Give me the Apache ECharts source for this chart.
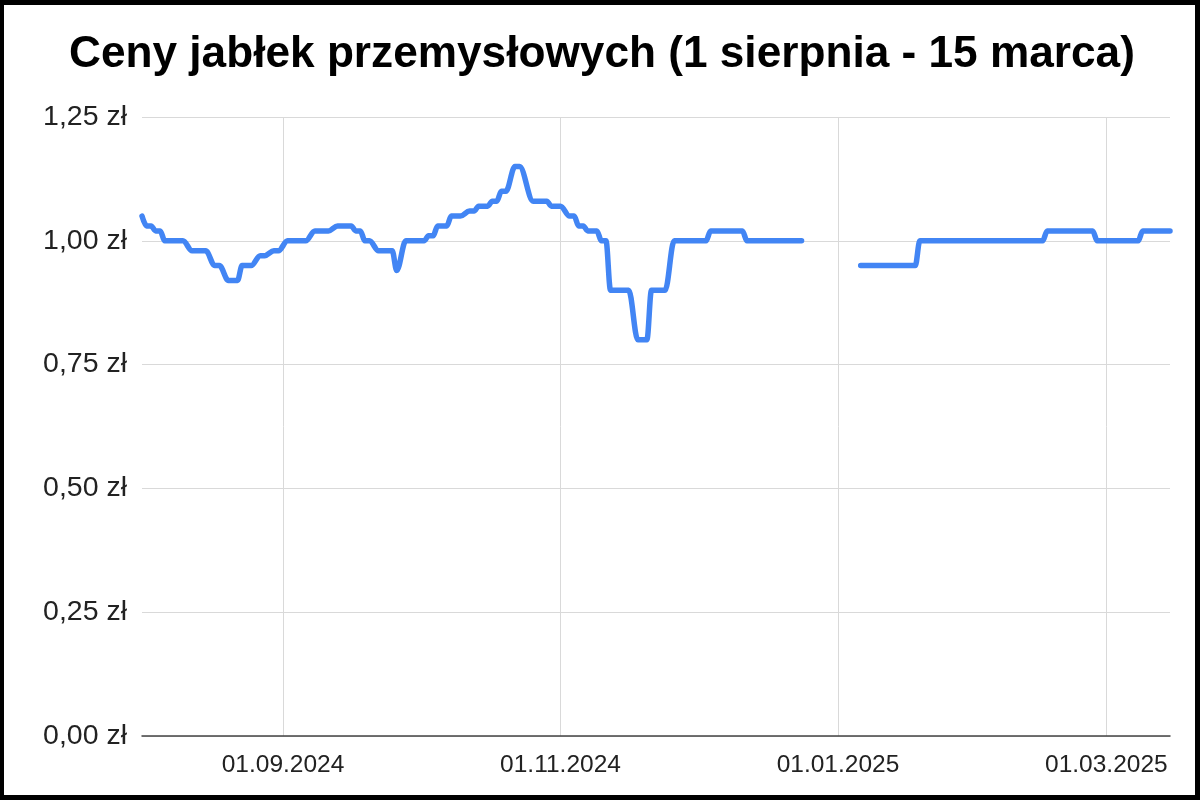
<!DOCTYPE html>
<html>
<head>
<meta charset="utf-8">
<script src="https://cdn.jsdelivr.net/npm/echarts@6/dist/echarts.min.js"></script>
<style>
  html, body { margin: 0; padding: 0; background: #000; width: 1200px; height: 800px; overflow: hidden; }
  #chart { position: absolute; left: 4px; top: 5px; width: 1191px; height: 790px; background: #fff; }
</style>
</head>
<body>
<div id="chart"></div>
<script>
const chartTitle = 'Ceny jabłek przemysłowych (1 sierpnia - 15 marca)';

const dates = [
  '2024-08-01','2024-08-02','2024-08-03','2024-08-04','2024-08-05','2024-08-06','2024-08-10',
  '2024-08-12','2024-08-15','2024-08-17','2024-08-18','2024-08-20','2024-08-22',
  '2024-08-23','2024-08-25','2024-08-27','2024-08-28','2024-08-30','2024-08-31',
  '2024-09-02','2024-09-06','2024-09-08','2024-09-11','2024-09-13','2024-09-16',
  '2024-09-17','2024-09-18','2024-09-19','2024-09-20','2024-09-22','2024-09-25',
  '2024-09-26','2024-09-28','2024-10-02','2024-10-03','2024-10-04','2024-10-05','2024-10-07',
  '2024-10-08','2024-10-10','2024-10-12','2024-10-13','2024-10-14','2024-10-16',
  '2024-10-17','2024-10-18','2024-10-19','2024-10-20','2024-10-22','2024-10-23',
  '2024-10-26','2024-10-29','2024-10-30','2024-11-01','2024-11-03','2024-11-04',
  '2024-11-05','2024-11-06','2024-11-07','2024-11-09','2024-11-10','2024-11-11',
  '2024-11-12','2024-11-16','2024-11-18','2024-11-20','2024-11-21','2024-11-24',
  '2024-11-26','2024-12-03','2024-12-04','2024-12-11','2024-12-12','2024-12-24',
  '2024-12-31',
  '2025-01-06','2025-01-18','2025-01-19','2025-02-15','2025-02-16','2025-02-26',
  '2025-02-27','2025-03-08','2025-03-09','2025-03-15'
];
const prices = [
  1.05,1.03,1.03,1.02,1.02,1.00,1.00,
  0.98,0.98,0.95,0.95,0.92,0.92,
  0.95,0.95,0.97,0.97,0.98,0.98,
  1.00,1.00,1.02,1.02,1.03,1.03,
  1.02,1.02,1.00,1.00,0.98,0.98,
  0.94,1.00,1.00,1.01,1.01,1.03,1.03,
  1.05,1.05,1.06,1.06,1.07,1.07,
  1.08,1.08,1.10,1.10,1.15,1.15,
  1.08,1.08,1.07,1.07,1.05,1.05,
  1.03,1.03,1.02,1.02,1.00,1.00,
  0.90,0.90,0.80,0.80,0.90,0.90,
  1.00,1.00,1.02,1.02,1.00,1.00,
  null,
  0.95,0.95,1.00,1.00,1.02,1.02,
  1.00,1.00,1.02,1.02
];

const axisMin = '2024-08-01';
const axisMax = '2025-03-15';
const yTicks = [0, 0.25, 0.5, 0.75, 1.0, 1.25];

const seriesData = dates.map((d, i) => [d, prices[i] === null ? '-' : prices[i]]);

function pad(n) { return (n < 10 ? '0' : '') + n; }

const chart = echarts.init(document.getElementById('chart'), null, { renderer: 'canvas' });
chart.setOption({
  animation: false,
  backgroundColor: '#fff',
  title: {
    text: chartTitle,
    left: 60,
    top: 23,
    textStyle: { fontFamily: 'Liberation Sans, Arial, sans-serif', fontSize: 44.2, fontWeight: 'bold', color: '#000' }
  },
  grid: { left: 138, right: 25, top: 112, bottom: 59, containLabel: false },
  xAxis: {
    type: 'time',
    min: axisMin,
    max: axisMax,
    splitNumber: 3,
    axisLine: { show: true, lineStyle: { color: '#444', width: 1.5 } },
    axisTick: { show: false },
    splitLine: { show: true, showMinLine: false, showMaxLine: false, lineStyle: { color: '#d9d9d9', width: 1 } },
    axisLabel: {
      fontFamily: 'Liberation Sans, Arial, sans-serif',
      fontSize: 24.5,
      color: '#222',
      margin: 17,
      showMinLabel: false,
      showMaxLabel: false,
      hideOverlap: false,
      formatter: function (value) {
        const d = new Date(value);
        return pad(d.getDate()) + '.' + pad(d.getMonth() + 1) + '.' + d.getFullYear();
      }
    }
  },
  yAxis: {
    type: 'value',
    min: yTicks[0],
    max: yTicks[yTicks.length - 1],
    interval: 0.25,
    axisLine: { show: false },
    axisTick: { show: false },
    splitLine: { show: true, lineStyle: { color: '#d9d9d9', width: 1 } },
    axisLabel: {
      fontFamily: 'Liberation Sans, Arial, sans-serif',
      fontSize: 28.5,
      color: '#222',
      margin: 15,
      padding: [15, 0, 0, 0],
      formatter: function (v) { return v.toFixed(2).replace('.', ',') + ' zł'; }
    }
  },
  series: [{
    type: 'line',
    data: seriesData,
    showSymbol: false,
    connectNulls: false,
    smooth: 0.35,
    smoothMonotone: 'x',
    lineStyle: { color: '#4285F4', width: 5.5, join: 'round', cap: 'round' },
    itemStyle: { color: '#4285F4' }
  }]
});
</script>
</body>
</html>
